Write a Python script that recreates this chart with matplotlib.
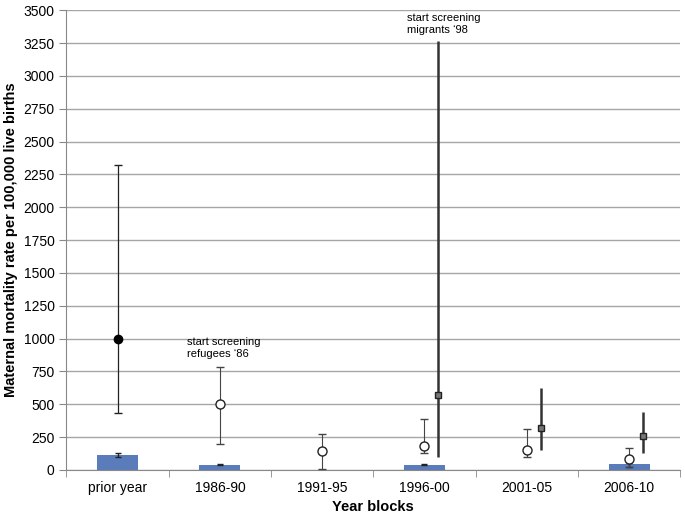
import numpy as np
import matplotlib
matplotlib.use("Agg")
import matplotlib.pyplot as plt

plt.rcParams['font.family'] = ['Liberation Sans', 'DejaVu Sans']

categories = ['prior year', '1986-90', '1991-95', '1996-00', '2001-05', '2006-10']

# blue bars (baseline rate) with small error bars
bar_vals = [112, 40, 0, 40, 0, 45]
bar_lo = [100, 35, 0, 35, 0, 25]
bar_hi = [128, 46, 0, 46, 0, 55]

# prior year filled circle
prior_val = 1000
prior_lo = 430
prior_hi = 2320

# refugees (open circles), index 1..5
ref_vals = [500, 140, 180, 150, 80]
ref_lo = [200, 5, 130, 100, 20]
ref_hi = [780, 270, 390, 310, 170]

# migrants (squares), index 3..5
mig_vals = [570, 320, 260]
mig_lo = [100, 150, 130]
mig_hi = [3270, 620, 440]

fig, ax = plt.subplots(figsize=(6.85, 5.18), dpi=100)
fig.subplots_adjust(left=0.097, right=0.993, top=0.98, bottom=0.093)

x = np.arange(len(categories))
ax.set_axisbelow(True)
ax.yaxis.grid(True, color='#a6a6a6', linewidth=1)

bx = [i for i in x if bar_vals[i] > 0]
bv = [bar_vals[i] for i in bx]
ax.bar(bx, bv, width=0.4, color='#5b7cba', zorder=2)
ax.errorbar(bx, bv, yerr=[[bar_vals[i] - bar_lo[i] for i in bx], [bar_hi[i] - bar_vals[i] for i in bx]],
            fmt='none', ecolor='#222222', elinewidth=1, capsize=2.5, zorder=3)

ax.errorbar([0], [prior_val], yerr=[[prior_val - prior_lo], [prior_hi - prior_val]],
            fmt='o', color='black', markersize=6, ecolor='#222222', elinewidth=0.9,
            capsize=3, zorder=4)

rx = x[1:]
ax.errorbar(rx, ref_vals, yerr=[np.subtract(ref_vals, ref_lo), np.subtract(ref_hi, ref_vals)],
            fmt='o', mfc='white', mec='#222222', markersize=6.5, ecolor='#444444',
            elinewidth=0.8, capsize=3, zorder=4)

mx = x[3:] + 0.135
ax.errorbar(mx, mig_vals, yerr=[np.subtract(mig_vals, mig_lo), np.subtract(mig_hi, mig_vals)],
            fmt='s', mfc='#777777', mec='#222222', markersize=4.5, ecolor='#333333',
            elinewidth=1.8, capsize=0, zorder=4)

ax.text(0.68, 1010, "start screening\nrefugees \u201886", fontsize=8, va='top', ha='left')
ax.text(2.83, 3480, "start screening\nmigrants \u201898", fontsize=8, va='top', ha='left')

ax.set_xlim(-0.5, len(categories) - 0.5)
ax.set_ylim(0, 3500)
ax.set_yticks(np.arange(0, 3501, 250))
ax.set_xticks(x)
ax.set_xticklabels(categories, fontsize=10)
ax.set_xticks(np.arange(-0.5, len(categories), 1), minor=True)
ax.tick_params(axis='x', which='major', length=0, pad=8)
ax.tick_params(axis='x', which='minor', length=5, color='#888888')
ax.tick_params(axis='y', labelsize=10, length=5, color='#888888')

for s in ['top', 'right']:
    ax.spines[s].set_visible(False)
ax.spines['left'].set_color('#888888')
ax.spines['bottom'].set_color('#888888')

ax.set_xlabel('Year blocks', fontsize=10.5, fontweight='bold', labelpad=4)
ax.set_ylabel('Maternal mortality rate per 100,000 live births', fontsize=10.5, fontweight='bold', labelpad=4)

fig.savefig('out.png', dpi=100)
